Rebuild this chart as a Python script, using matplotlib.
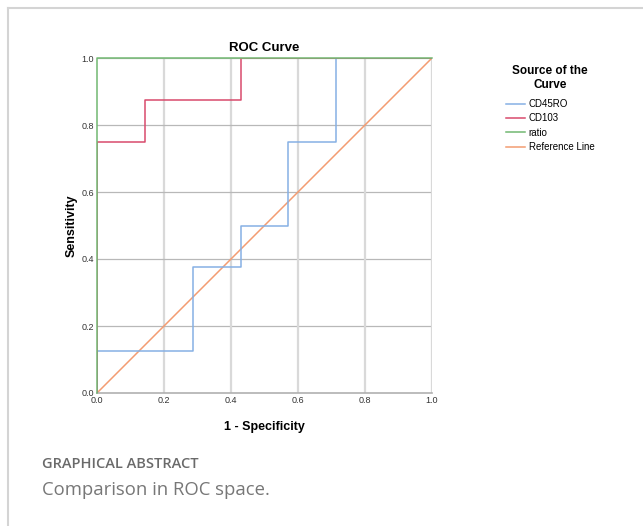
import matplotlib
matplotlib.use("Agg")
import matplotlib.pyplot as plt
from matplotlib.lines import Line2D

# Data
cd45ro_fpr = [0.0, 0.0, 0.286, 0.286, 0.429, 0.429, 0.571, 0.571, 0.714, 0.714, 1.0]
cd45ro_tpr = [0.0, 0.125, 0.125, 0.375, 0.375, 0.5, 0.5, 0.75, 0.75, 1.0, 1.0]
cd103_fpr = [0.0, 0.0, 0.143, 0.143, 0.429, 0.429, 1.0]
cd103_tpr = [0.0, 0.75, 0.75, 0.875, 0.875, 1.0, 1.0]
ratio_fpr = [0.0, 0.0, 1.0]
ratio_tpr = [0.0, 1.0, 1.0]
ref_fpr = [0.0, 1.0]
ref_tpr = [0.0, 1.0]
ticks = [0.0, 0.2, 0.4, 0.6, 0.8, 1.0]
tick_labels = ["0.0", "0.2", "0.4", "0.6", "0.8", "1.0"]
series_names = ["CD45RO", "CD103", "ratio", "Reference Line"]
colors = ["#86b0e4", "#d84a6c", "#72b872", "#f39c72"]

plt.rcParams['font.family'] = ['Liberation Sans', 'DejaVu Sans']

fig = plt.figure(figsize=(6.43, 5.26), dpi=100)
fig.patch.set_facecolor("white")

# card border
fig.add_artist(Line2D([8/643, 1.0], [1-8/526, 1-8/526], color="#d4d4d4", lw=1.5, transform=fig.transFigure))
fig.add_artist(Line2D([8/643, 8/643], [0, 1-8/526], color="#d4d4d4", lw=1.5, transform=fig.transFigure))

ax = fig.add_axes([97/643, 1-393/526, 335/643, 335/526])
ax.set_xlim(0, 1)
ax.set_ylim(0, 1)
for s in ["top", "right", "left"]:
    ax.spines[s].set_visible(False)
ax.spines["bottom"].set_color("#b0b0b0")
ax.spines["bottom"].set_linewidth(1.2)

for t in ticks[1:]:
    ax.axvline(t, color="#d9d9d9", lw=1.6, zorder=0)
    ax.axhline(t, color="#b8b8b8", lw=0.9, zorder=0)

ax.plot(ref_fpr, ref_tpr, color=colors[3], lw=1.1, zorder=2)
ax.plot(cd45ro_fpr, cd45ro_tpr, color=colors[0], lw=1.1, zorder=3)
ax.plot(cd103_fpr, cd103_tpr, color=colors[1], lw=1.1, zorder=3)
ax.plot(ratio_fpr, ratio_tpr, color=colors[2], lw=1.1, zorder=4, clip_on=False)

ax.set_xticks(ticks)
ax.set_xticklabels(tick_labels, fontsize=6.5, color="#333333")
ax.set_yticks(ticks)
ax.set_yticklabels(tick_labels, fontsize=6.5, color="#333333")
ax.tick_params(length=0, pad=2)

ax.set_title("ROC Curve", fontsize=9.5, fontweight="bold", pad=5)
ax.set_xlabel("1 - Specificity", fontsize=9, fontweight="bold", labelpad=12)
ax.set_ylabel("Sensitivity", fontsize=9, fontweight="bold", labelpad=3)

handles = [Line2D([], [], color=c, lw=1.1) for c in colors]
leg = fig.legend(handles, series_names, title="Source of the\nCurve",
                 loc="upper left", bbox_to_anchor=(502/643, 1-61/526),
                 frameon=False, fontsize=7, handlelength=2.0, handletextpad=0.35,
                 labelspacing=0.45, borderaxespad=0)
leg.get_title().set_fontweight("bold")
leg.get_title().set_fontsize(8.5)
leg.get_title().set_multialignment("center")
leg._legend_box.align = "center"
leg._legend_box.sep = 6

fig.text(42/643, 1-464/526, "GRAPHICAL ABSTRACT", fontsize=10.5, color="#6a6a6a",
         family=["Open Sans", "DejaVu Sans"], fontweight="semibold", va="center")
fig.text(42/643, 1-490/526, "Comparison in ROC space.", fontsize=13.3, color="#777777",
         family=["Open Sans", "DejaVu Sans"], fontweight="normal", va="center")

fig.savefig("out.png", dpi=100, facecolor="white")
